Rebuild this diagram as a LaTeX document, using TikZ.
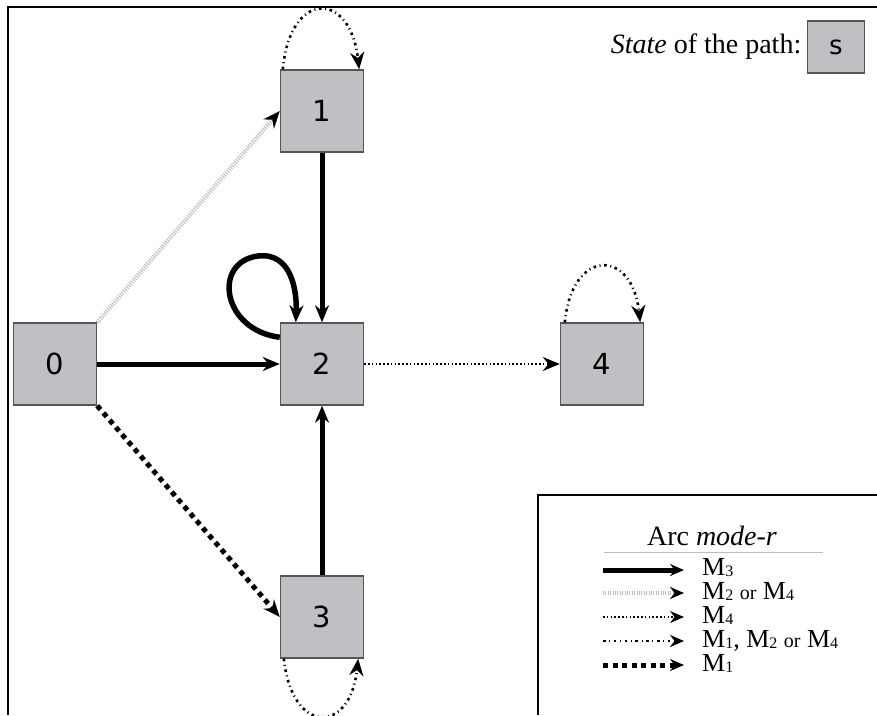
\documentclass[tikz,border=0pt]{standalone}
\usepackage{fontspec}
\setmainfont{Liberation Serif}
\newfontfamily\statefont{DejaVu Sans}
\usepackage{tikz}
\usetikzlibrary{arrows.meta, positioning, calc}
\definecolor{StateGray}{HTML}{C1BFC4}
\definecolor{EdgeGray}{HTML}{555555}
\definecolor{HatchGray}{HTML}{BDBDBD}

% subscripted mode label
\newcommand{\modeM}[1]{M\raisebox{-0.15ex}{\fontsize{16}{16}\selectfont #1}}
\newcommand{\orword}{{\fontsize{20}{20}\selectfont or}}

\tikzset{
    statebox/.style={draw=EdgeGray, line width=1.4pt, fill=StateGray,
        minimum width=83pt, minimum height=82pt, inner sep=0pt,
        font=\statefont\fontsize{29}{29}\selectfont},
    tip/.style={-{Stealth[length=17pt, width=14pt, color=black]}},
    smalltip/.style={-{Stealth[length=14pt, width=12pt, color=black]}},
    modeThree/.style={line width=5pt},
    modeTwoFour/.style={line width=4.5pt, draw=HatchGray, dash pattern=on 1pt off 1.4pt},
    modeFour/.style={line width=1.6pt, dash pattern=on 1.6pt off 2.2pt},
    modeOneTwoFour/.style={line width=2.6pt, dash pattern=on 2.6pt off 3.6pt on 1pt off 3.6pt},
    modeOne/.style={line width=5pt, dash pattern=on 5pt off 4.5pt},
    keytext/.style={anchor=west, inner sep=0pt, text height=16pt, text depth=2pt,
        font=\fontsize{26}{26}\selectfont},
}

\begin{document}
\begin{tikzpicture}[x=1pt, y=-1pt]
\useasboundingbox (0,0) rectangle (877,715);

% frame
\draw[line width=2pt] (877,7) -- (8,7) -- (8,715);

% states
\node[statebox] (n0) at (55,364) {0};
\node[statebox] (n1) at (322,111) {1};
\node[statebox] (n2) at (322,364) {2};
\node[statebox] (n3) at (322,617) {3};
\node[statebox] (n4) at (602,364) {4};

% arcs
\draw[modeTwoFour, tip] (n0.north east) -- (n1.west);
\draw[modeThree, tip] (n0.east) -- (n2.west);
\draw[modeOne, tip] (n0.south east) -- (n3.west);
\draw[modeThree, tip] (n1.south) -- (n2.north);
\draw[modeThree, tip] (n3.north) -- (n2.south);
\draw[modeFour, tip] (n2.east) -- (n4.west);

% self loops
\coordinate (l2a) at ($(n2.north west)+(0,15)$);
\coordinate (l2b) at ($(n2.north west)+(16,0)$);
\draw[modeThree, line width=5.5pt, tip] (l2a) .. controls (222,330) and (212,262) .. (258,256)
    .. controls (292,252) and (297,292) .. (l2b);

\coordinate (l1a) at ($(n1.north west)+(3,0)$);
\coordinate (l1b) at ($(n1.north east)+(-5,0)$);
\draw[modeOneTwoFour, tip] (l1a) .. controls (290,-10) and (350,-10) .. (l1b);

\coordinate (l4a) at ($(n4.north west)+(5,0)$);
\coordinate (l4b) at ($(n4.north east)+(-4,0)$);
\draw[modeOneTwoFour, tip] (l4a) .. controls (572,248) and (632,248) .. (l4b);

\coordinate (l3a) at ($(n3.south west)+(4,0)$);
\coordinate (l3b) at ($(n3.south east)+(-6,0)$);
\draw[modeOneTwoFour, tip] (l3a) .. controls (292,735) and (350,735) .. (l3b);

% state key
\node[statebox, minimum width=57pt, minimum height=52pt,
      font=\statefont\fontsize{26}{26}\selectfont] (skey) at (836,47) {s};
\node[left=2pt of skey, font=\fontsize{28}{28}\selectfont] (stext)
    {\textit{State} of the path:};

% legend
\draw[line width=2pt] (877,495) -- (538,495) -- (538,715);
\node[font=\fontsize{28}{28}\selectfont] (ltitle) at (712,536) {Arc \textit{mode-r}};
\draw[line width=0.6pt, draw=HatchGray] (604,552) -- (823,552);

\foreach \name/\yy in {a/570, b/593, c/617, d/641, e/665} {
    \coordinate (ls\name) at (603,\yy);
    \coordinate (le\name) at (684,\yy);
}
\draw[modeThree, smalltip] (lsa) -- (lea);
\draw[modeTwoFour, smalltip] (lsb) -- (leb);
\draw[modeFour, smalltip] (lsc) -- (lec);
\draw[modeOneTwoFour, smalltip] (lsd) -- (led);
\draw[modeOne, smalltip] (lse) -- (lee);

\node[keytext] (ma) at (702,568) {\modeM{3}};
\node[keytext] (mb) at (702,592) {\modeM{2} \orword{} \modeM{4}};
\node[keytext] (mc) at (702,616) {\modeM{4}};
\node[keytext] (md) at (702,640) {\modeM{1}, \modeM{2} \orword{} \modeM{4}};
\node[keytext] (me) at (702,664) {\modeM{1}};
\end{tikzpicture}
\end{document}
